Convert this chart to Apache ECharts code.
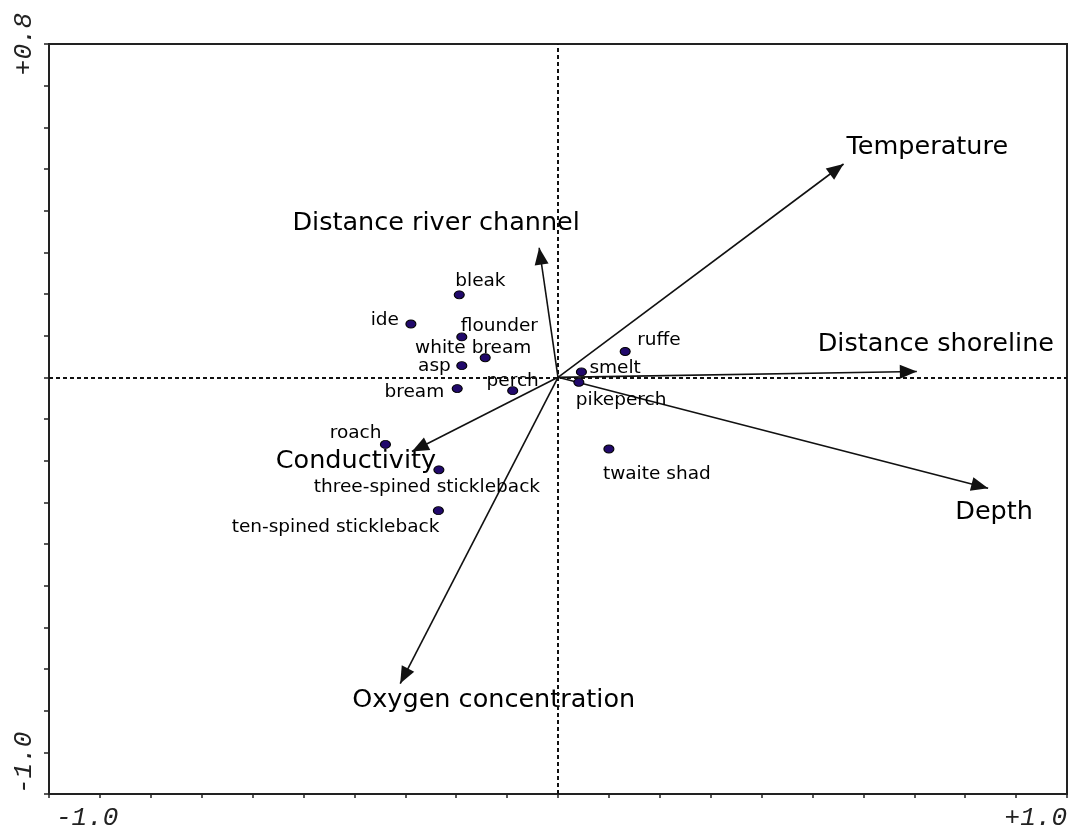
<!DOCTYPE html>
<html>
<head>
<meta charset="utf-8">
<script src="https://cdn.jsdelivr.net/npm/echarts@6/dist/echarts.min.js"></script>
<style>
html,body{margin:0;padding:0;background:#fff;}
#chart{width:1072px;height:831px;}
</style>
</head>
<body>
<div id="chart"></div>
<script>
// ---- data ----
const speciesNames = ['bleak','ide','flounder','white bream','asp','bream','perch','smelt','pikeperch','ruffe','twaite shad','roach','three-spined stickleback','ten-spined stickleback'];
const speciesX = [-0.194,-0.289,-0.189,-0.143,-0.189,-0.198,-0.089,0.046,0.041,0.132,0.100,-0.339,-0.234,-0.235];
const speciesY = [0.198,0.128,0.097,0.047,0.028,-0.027,-0.032,0.013,-0.012,0.062,-0.172,-0.161,-0.222,-0.320];

const envNames = ['Temperature','Distance river channel','Distance shoreline','Depth','Conductivity','Oxygen concentration'];
const envX = [0.561,-0.037,0.705,0.845,-0.287,-0.310];
const envY = [0.512,0.311,0.014,-0.266,-0.178,-0.735];

const xRange = [-1.0, 1.0];
const yRange = [-1.0, 0.8];
const xTickLabels = ['-1.0', '+1.0'];
const yTickLabels = ['-1.0', '+0.8'];

// ---- label placement (layout only) ----
const speciesLabelLayout = {
  'bleak': ['left', -4, -14],
  'ide': ['right', -12, -4],
  'flounder': ['left', -1, -11],
  'white bream': ['center', -12, -10],
  'asp': ['right', -11, 1],
  'bream': ['right', -13, 4],
  'perch': ['center', 0, -9],
  'smelt': ['left', 8, -4],
  'pikeperch': ['left', -3, 18],
  'ruffe': ['left', 12, -11],
  'twaite shad': ['left', -6, 25],
  'roach': ['right', -4, -11],
  'three-spined stickleback': ['center', -12, 17],
  'ten-spined stickleback': ['right', 1, 17]
};
const envLabelLayout = {
  'Temperature': ['left', 3, -17],
  'Distance river channel': ['center', -103, -24],
  'Distance shoreline': ['center', 19, -27],
  'Depth': ['center', 6, 24],
  'Conductivity': ['center', -56, 10],
  'Oxygen concentration': ['left', -48, 17]
};

const axisColor = '#222';
const near = (a, b) => Math.abs(a - b) < 1e-6;

// arrow head whose tip sits at the symbol centre (square bbox, tip at 0,0)
const arrowHead = 'path://M0,0L7,17L-7,17Z M-18,-18L-18,-18 M18,18L18,18';

const speciesData = speciesNames.map((n, i) => {
  const L = speciesLabelLayout[n];
  return {
    name: n,
    value: [speciesX[i], speciesY[i]],
    label: { align: L[0], offset: [L[1], L[2]] }
  };
});
const envLabelData = envNames.map((n, i) => {
  const L = envLabelLayout[n];
  return {
    name: n,
    value: [envX[i], envY[i]],
    label: { align: L[0], offset: [L[1], L[2]] }
  };
});
const arrowData = envNames.map((n, i) => ({ name: n, coords: [[0, 0], [envX[i], envY[i]]] }));

const tickFont = { fontFamily: 'Liberation Mono', fontStyle: 'italic', fontSize: 26, color: '#222' };

const chart = echarts.init(document.getElementById('chart'), null, { renderer: 'canvas' });
chart.setOption({
  backgroundColor: '#ffffff',
  animation: false,
  grid: {
    left: 49, right: 5, top: 44, bottom: 36,
    show: true, borderColor: axisColor, borderWidth: 2, backgroundColor: 'transparent'
  },
  xAxis: {
    type: 'value', min: xRange[0], max: xRange[1], interval: 0.1,
    axisLine: { show: true, onZero: false, lineStyle: { color: axisColor, width: 2 } },
    axisTick: { show: true, length: 4, lineStyle: { color: axisColor, width: 1.5 } },
    splitLine: { show: false },
    axisLabel: Object.assign({
      show: true, margin: 11,
      showMinLabel: true, showMaxLabel: true,
      alignMinLabel: 'left', alignMaxLabel: 'right',
      rich: { lo: Object.assign({ padding: [0, 0, 0, 7] }, tickFont) },
      formatter: v => near(v, xRange[0]) ? '{lo|' + xTickLabels[0] + '}' : (near(v, xRange[1]) ? xTickLabels[1] : '')
    }, tickFont)
  },
  yAxis: {
    type: 'value', min: yRange[0], max: yRange[1], interval: 0.1,
    axisLine: { show: true, onZero: false, lineStyle: { color: axisColor, width: 2 } },
    axisTick: { show: true, length: 5, lineStyle: { color: axisColor, width: 1.5 } },
    splitLine: { show: false },
    axisLabel: Object.assign({
      show: true, rotate: 90, margin: 12,
      showMinLabel: true, showMaxLabel: true,
      alignMinLabel: 'left', alignMaxLabel: 'center',
      formatter: v => near(v, yRange[0]) ? yTickLabels[0] : (near(v, yRange[1]) ? yTickLabels[1] : '')
    }, tickFont)
  },
  series: [
    {
      name: 'env labels', type: 'scatter', z: 2, silent: true,
      symbolSize: 0,
      itemStyle: { opacity: 1 },
      data: envLabelData,
      label: {
        show: true, position: 'inside', verticalAlign: 'middle',
        formatter: p => p.name,
        fontFamily: 'DejaVu Sans', fontSize: 25.5, color: '#000'
      },
      markLine: {
        silent: true, symbol: ['none', 'none'], animation: false,
        label: { show: false },
        lineStyle: { type: [4, 3], width: 2, color: '#111' },
        data: [{ xAxis: 0 }, { yAxis: 0 }]
      }
    },
    {
      name: 'arrows', type: 'lines', coordinateSystem: 'cartesian2d', z: 3, silent: true,
      polyline: false,
      symbol: ['none', arrowHead], symbolSize: [0, 36],
      lineStyle: { color: '#111', width: 1.6, opacity: 1 },
      data: arrowData
    },
    {
      name: 'species', type: 'scatter', z: 4, silent: true,
      symbol: 'circle', symbolSize: [10, 8],
      itemStyle: { color: '#21096b', borderColor: '#000', borderWidth: 1, opacity: 1 },
      data: speciesData,
      label: {
        show: true, position: 'inside', verticalAlign: 'middle',
        formatter: p => p.name,
        fontFamily: 'DejaVu Sans', fontSize: 18.5, color: '#000'
      }
    }
  ]
});
</script>
</body>
</html>
